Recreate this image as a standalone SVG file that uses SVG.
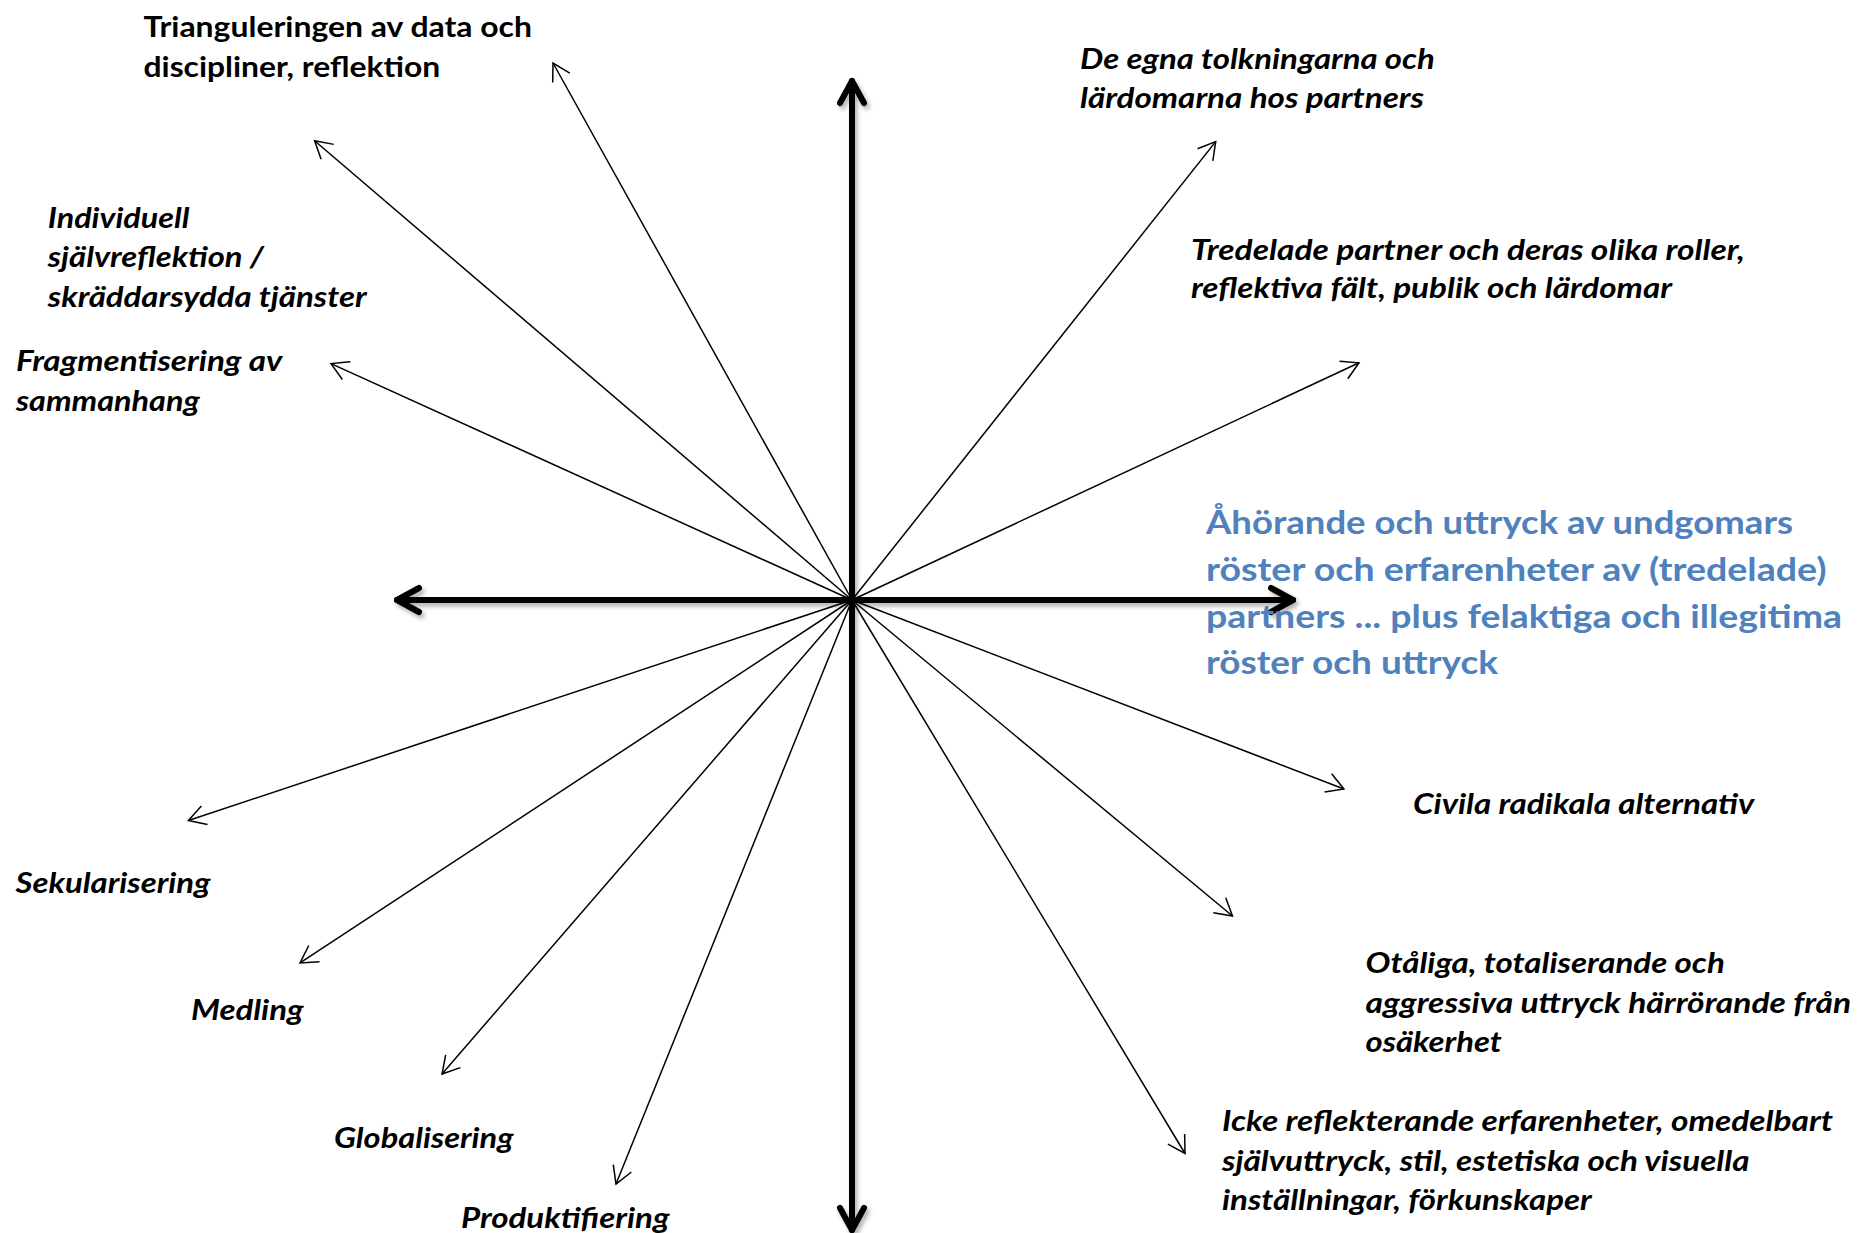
<svg xmlns="http://www.w3.org/2000/svg" width="1857" height="1233" viewBox="0 0 1857 1233">
<style>
  .lbl { font-family: Lato, "Open Sans", "Liberation Sans", sans-serif; font-weight: bold; font-size: 28px; fill: #000; }
  .it { font-style: italic; }
  .blue { font-family: Lato, "Open Sans", "Liberation Sans", sans-serif; font-weight: bold; font-size: 32px; fill: #4F81BD; }
  .thin { stroke: #000; stroke-width: 1.5; fill: none; marker-end: url(#thinHead); }
  .axis { stroke: #000; stroke-width: 6; fill: none; stroke-linecap: round; marker-start: url(#thickHead); marker-end: url(#thickHead); }
</style>
<defs>
  <marker id="thinHead" markerUnits="userSpaceOnUse" viewBox="-20 -12 22 24" refX="0" refY="0" markerWidth="22" markerHeight="24" orient="auto">
    <path d="M -16.9 -9.75 L 0 0 L -16.9 9.75" fill="none" stroke="#000" stroke-width="1.5"/>
  </marker>
  <marker id="thickHead" markerUnits="userSpaceOnUse" viewBox="-28 -17 34 34" refX="0" refY="0" markerWidth="34" markerHeight="34" orient="auto-start-reverse">
    <path d="M -22 -12 L 0 0 L -22 12" fill="none" stroke="#000" stroke-width="6" stroke-linecap="round" stroke-linejoin="round"/>
  </marker>
  <filter id="shadow" x="-10%" y="-10%" width="120%" height="120%">
    <feDropShadow dx="2.5" dy="3.5" stdDeviation="2" flood-color="#000" flood-opacity="0.3"/>
  </filter>
</defs>
<rect width="1857" height="1233" fill="#fff"/>

<g id="connectors">
  <line class="thin" x1="852" y1="600" x2="553" y2="63"/>
  <line class="thin" x1="852" y1="600" x2="314.6" y2="140.8"/>
  <line class="thin" x1="852" y1="600" x2="331" y2="363.6"/>
  <line class="thin" x1="852" y1="600" x2="1215.7" y2="141.6"/>
  <line class="thin" x1="852" y1="600" x2="1359" y2="362.8"/>
  <line class="thin" x1="852" y1="600" x2="1343.9" y2="789"/>
  <line class="thin" x1="852" y1="600" x2="1232.5" y2="916"/>
  <line class="thin" x1="852" y1="600" x2="1185" y2="1153.5"/>
  <line class="thin" x1="852" y1="600" x2="188.4" y2="820.5"/>
  <line class="thin" x1="852" y1="600" x2="300" y2="962.9"/>
  <line class="thin" x1="852" y1="600" x2="442" y2="1074"/>
  <line class="thin" x1="852" y1="600" x2="616" y2="1184"/>
  <g filter="url(#shadow)">
    <line class="axis" x1="852" y1="1230" x2="852" y2="81"/>
    <line class="axis" x1="397" y1="600" x2="1293" y2="600"/>
  </g>
</g>

<g id="node-triangulering">
  <text class="lbl" x="143.5" y="37" textLength="388.5" lengthAdjust="spacingAndGlyphs">Trianguleringen av data och</text>
  <text class="lbl" x="143.5" y="76.5" textLength="296.6" lengthAdjust="spacingAndGlyphs">discipliner, reflektion</text>
</g>
<g id="node-individuell">
  <text class="lbl it" x="47.8" y="227.5" textLength="141.6" lengthAdjust="spacingAndGlyphs">Individuell</text>
  <text class="lbl it" x="47.8" y="267" textLength="216" lengthAdjust="spacingAndGlyphs">självreflektion /</text>
  <text class="lbl it" x="47.8" y="306.5" textLength="318.8" lengthAdjust="spacingAndGlyphs">skräddarsydda tjänster</text>
</g>
<g id="node-fragmentisering">
  <text class="lbl it" x="16" y="371" textLength="266.4" lengthAdjust="spacingAndGlyphs">Fragmentisering av</text>
  <text class="lbl it" x="16" y="410.6" textLength="183.7" lengthAdjust="spacingAndGlyphs">sammanhang</text>
</g>
<g id="node-de-egna">
  <text class="lbl it" x="1080" y="69" textLength="354.8" lengthAdjust="spacingAndGlyphs">De egna tolkningarna och</text>
  <text class="lbl it" x="1080" y="108" textLength="344" lengthAdjust="spacingAndGlyphs">lärdomarna hos partners</text>
</g>
<g id="node-tredelade">
  <text class="lbl it" x="1191" y="259.5" textLength="554" lengthAdjust="spacingAndGlyphs">Tredelade partner och deras olika roller,</text>
  <text class="lbl it" x="1191" y="297.7" textLength="481" lengthAdjust="spacingAndGlyphs">reflektiva fält, publik och lärdomar</text>
</g>
<g id="node-ahorande">
  <text class="blue" x="1206" y="534" textLength="587" lengthAdjust="spacingAndGlyphs">Åhörande och uttryck av undgomars</text>
  <text class="blue" x="1206" y="581" textLength="620.6" lengthAdjust="spacingAndGlyphs">röster och erfarenheter av (tredelade)</text>
  <text class="blue" x="1206" y="627.5" textLength="636" lengthAdjust="spacingAndGlyphs">partners ... plus felaktiga och illegitima</text>
  <text class="blue" x="1206" y="674" textLength="292" lengthAdjust="spacingAndGlyphs">röster och uttryck</text>
</g>
<g id="node-civila">
  <text class="lbl it" x="1413" y="813.6" textLength="341.3" lengthAdjust="spacingAndGlyphs">Civila radikala alternativ</text>
</g>
<g id="node-otaliga">
  <text class="lbl it" x="1365.5" y="972.8" textLength="359.3" lengthAdjust="spacingAndGlyphs">Otåliga, totaliserande och</text>
  <text class="lbl it" x="1365.5" y="1013" textLength="485.6" lengthAdjust="spacingAndGlyphs">aggressiva uttryck härrörande från</text>
  <text class="lbl it" x="1365.5" y="1052" textLength="136.2" lengthAdjust="spacingAndGlyphs">osäkerhet</text>
</g>
<g id="node-icke">
  <text class="lbl it" x="1222" y="1130.5" textLength="611" lengthAdjust="spacingAndGlyphs">Icke reflekterande erfarenheter, omedelbart</text>
  <text class="lbl it" x="1222" y="1170.7" textLength="527.5" lengthAdjust="spacingAndGlyphs">självuttryck, stil, estetiska och visuella</text>
  <text class="lbl it" x="1222" y="1210" textLength="369.7" lengthAdjust="spacingAndGlyphs">inställningar, förkunskaper</text>
</g>
<g id="node-sekularisering">
  <text class="lbl it" x="15.6" y="893" textLength="195" lengthAdjust="spacingAndGlyphs">Sekularisering</text>
</g>
<g id="node-medling">
  <text class="lbl it" x="191" y="1020" textLength="112.5" lengthAdjust="spacingAndGlyphs">Medling</text>
</g>
<g id="node-globalisering">
  <text class="lbl it" x="334" y="1147.7" textLength="179.5" lengthAdjust="spacingAndGlyphs">Globalisering</text>
</g>
<g id="node-produktifiering">
  <text class="lbl it" x="461" y="1228" textLength="208.5" lengthAdjust="spacingAndGlyphs">Produktifiering</text>
</g>
</svg>
